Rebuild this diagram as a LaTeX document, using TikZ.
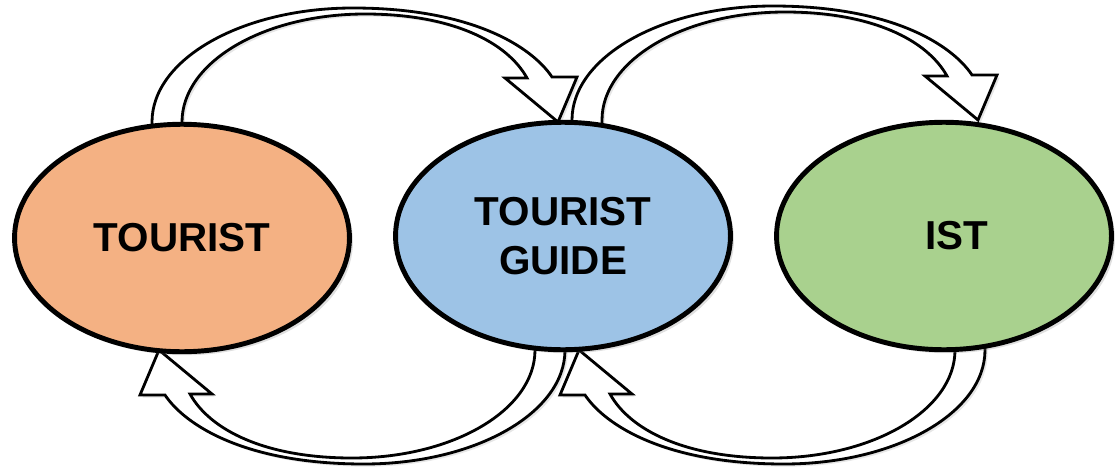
\documentclass[tikz,border=0pt]{standalone}
\usepackage{fontspec}
\setmainfont{Liberation Sans}
\usetikzlibrary{shapes.geometric,shadows}
\definecolor{touristfill}{HTML}{F4B183}
\definecolor{guidefill}{HTML}{9DC3E6}
\definecolor{istfill}{HTML}{A9D18E}
\tikzset{
  place/.style={ellipse,draw,line width=2.8pt,minimum width=6.7cm,minimum height=4.55cm,
    inner sep=0pt,align=center,font=\fontsize{23}{27.5}\selectfont\bfseries,
    drop shadow={opacity=0.25,shadow xshift=2pt,shadow yshift=-2pt}},
  blockarrow/.style={draw,fill=white,line width=1.6pt,line join=miter,
    drop shadow={opacity=0.2,shadow xshift=1.5pt,shadow yshift=-1.5pt}}
}
%% curved block arrow, tail at the origin, head to the right
\newcommand{\bentarrow}[1]{%
  \draw[blockarrow,#1] (0,15) -- (0,0)
    .. controls (0,-63) and (90,-114) .. (201,-114)
    .. controls (320,-114) and (380,-75) .. (400,-45)
    -- (425,-45) -- (406,0) -- (353,-44) -- (375,-44)
    .. controls (355,-80) and (300,-108) .. (213,-108)
    .. controls (112,-108) and (30,-60) .. (30,0) -- (30,15) -- cycle;}
\begin{document}
\begin{tikzpicture}[x=0.02cm,y=-0.02cm]
        \useasboundingbox (0,0) rectangle (1115,470);
        %% Arrows over the top
        \bentarrow{shift={(152,122)}}
        \bentarrow{shift={(572,120)}}
        %% Arrows under the bottom
        \bentarrow{shift={(565,350)},rotate=180}
        \bentarrow{shift={(985,350)},rotate=180}
        %% Places
        \node[place,fill=touristfill] (tourist) at (182,238) {TOURIST};
        \node[place,fill=guidefill] (guide) at (563,236) {TOURIST\\GUIDE};
        \node[place,fill=istfill] (ist) at (944,236) {\hspace*{0.5cm}IST};
    \end{tikzpicture}
\end{document}
